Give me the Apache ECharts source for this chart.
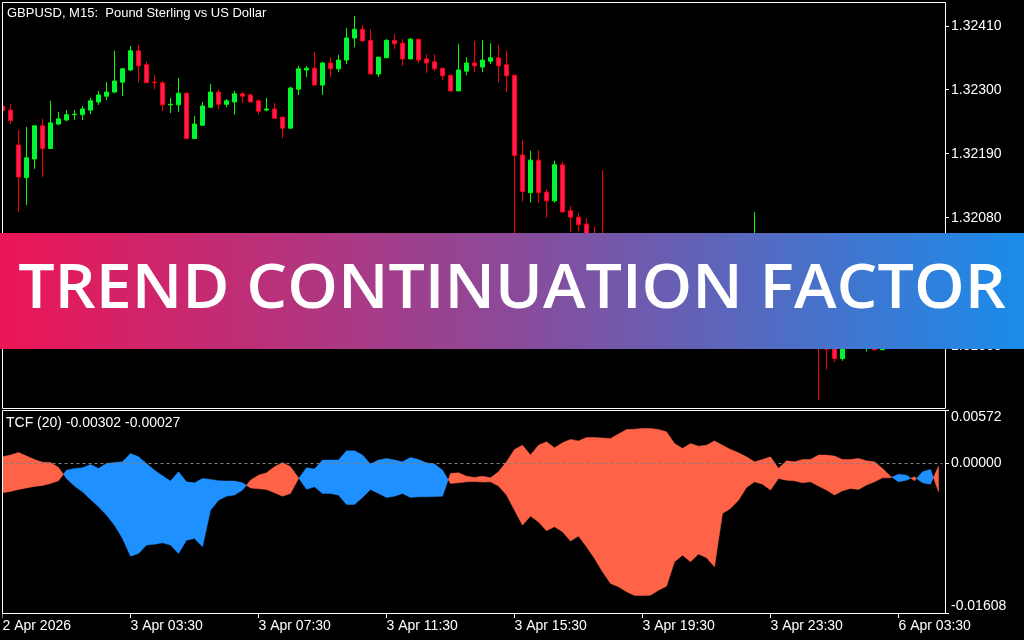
<!DOCTYPE html>
<html><head><meta charset="utf-8">
<script src="https://cdn.jsdelivr.net/npm/echarts@6/dist/echarts.min.js"></script>
<style>html,body{margin:0;padding:0;background:#000;overflow:hidden}#c{width:1024px;height:640px}</style>
</head><body><div id="c"></div>
<script>
// ---- GBPUSD M15 candles ----
const opens = [
1.32272,1.32265,1.32205,1.32149,1.32181,1.32238,1.32199,1.32241,1.32248,1.32257,
1.32257,1.32265,1.32279,1.32289,1.32296,1.32313,1.32334,1.32367,1.32343,1.32313,
1.32312,1.32274,1.32274,1.32294,1.32216,1.32239,1.3227,1.32296,1.32275,1.32279,
1.32293,1.32291,1.32281,1.32265,1.32267,1.32253,1.32234,1.32301,1.32334,1.32337,
1.32308,1.32346,1.32336,1.32351,1.32389,1.32404,1.32385,1.32327,1.32355,1.32385,
1.3238,1.32353,1.32387,1.32353,1.32348,1.32337,1.32325,1.32298,1.32332,1.32346,
1.32339,1.32349,1.32355,1.32343,1.32325,1.32188,1.32123,1.32179,1.32124,1.32109,
1.32171,1.32092,1.32081,1.32069,1.32035,1.32004,1.31973,1.31952,1.31966,1.31939,
1.31925,1.31945,1.31921,1.31939,1.31959,1.3198,1.31963,1.31976,1.31956,1.31973,
1.31945,1.31966,1.31987,1.31973,1.31994,1.32014,1.31994,1.3197,1.31983,1.31956,
1.31935,1.31911,1.31887,1.3187,1.31873,1.31838,1.3187,1.3188,1.3187,1.31861,
1.31853,1.31866,1.31859,1.31873,1.31866,1.31877,1.3187,1.3188];
const highs = [
1.32275,1.32275,1.32231,1.32236,1.32238,1.3225,1.32281,1.32262,1.32265,1.32265,
1.32272,1.32286,1.32298,1.32313,1.32367,1.32337,1.32375,1.32377,1.32348,1.32325,
1.32315,1.32286,1.3232,1.32296,1.32255,1.32279,1.3231,1.323,1.32284,1.32298,
1.32296,1.32294,1.32284,1.32286,1.32277,1.32253,1.32305,1.32341,1.32341,1.32365,
1.32348,1.32356,1.3236,1.32406,1.32427,1.32411,1.32404,1.32356,1.32387,1.32396,
1.32387,1.32389,1.32387,1.32361,1.32361,1.32337,1.32325,1.32379,1.32356,1.32384,
1.32385,1.3238,1.32377,1.32367,1.32325,1.32214,1.32195,1.32196,1.32129,1.32178,
1.32176,1.321,1.32088,1.32079,1.32065,1.32162,1.31987,1.31976,1.31973,1.31945,
1.31956,1.31952,1.31945,1.3197,1.3199,1.3199,1.31987,1.31983,1.3198,1.3198,
1.31973,1.31997,1.31997,1.32004,1.3209,1.32025,1.32004,1.31994,1.3199,1.31963,
1.31942,1.31918,1.31894,1.31877,1.3188,1.31877,1.31887,1.31887,1.31887,1.3187,
1.31873,1.31873,1.3188,1.3188,1.31884,1.31884,1.31887,1.31887];
const lows = [
1.32262,1.32241,1.3209,1.32102,1.32164,1.3215,1.32199,1.32239,1.32246,1.32248,
1.32248,1.32258,1.32274,1.32282,1.32294,1.32289,1.32332,1.32313,1.32312,1.32301,
1.32263,1.3226,1.32262,1.32215,1.32216,1.32239,1.32269,1.32267,1.3227,1.32257,
1.32277,1.32279,1.32258,1.32263,1.32251,1.32217,1.32234,1.32291,1.32322,1.32308,
1.32291,1.32322,1.3233,1.32344,1.32373,1.32384,1.32327,1.32322,1.32355,1.3237,
1.32341,1.32353,1.32346,1.32329,1.32332,1.32317,1.32296,1.32298,1.32325,1.3233,
1.3233,1.32344,1.32313,1.32296,1.32025,1.32108,1.32106,1.32106,1.3208,1.32106,
1.32089,1.32056,1.32056,1.32021,1.31994,1.31956,1.31942,1.31939,1.31928,1.31908,
1.31918,1.31911,1.31915,1.31932,1.31952,1.31952,1.31956,1.31945,1.31949,1.31935,
1.31939,1.31959,1.31963,1.31966,1.31987,1.31983,1.31959,1.31963,1.31945,1.31925,
1.31901,1.31877,1.31766,1.31819,1.31832,1.31834,1.31863,1.31863,1.3185,1.31851,
1.31853,1.31856,1.31856,1.31859,1.31859,1.31863,1.31863,1.31863];
const closes = [
1.32264,1.32247,1.3215,1.32183,1.32238,1.32199,1.32243,1.3225,1.32257,1.32258,
1.32267,1.32281,1.32291,1.32296,1.32315,1.32336,1.32367,1.32341,1.32312,1.32312,
1.32274,1.32275,1.32294,1.32216,1.32241,1.32272,1.32296,1.32275,1.32281,1.32293,
1.32289,1.32279,1.32263,1.32267,1.32251,1.32234,1.32303,1.32336,1.32337,1.32308,
1.32346,1.32336,1.32351,1.32389,1.32404,1.32384,1.32327,1.32356,1.32385,1.32379,
1.32353,1.32387,1.32351,1.32346,1.32336,1.32324,1.32298,1.32334,1.32346,1.32341,
1.32351,1.32355,1.32341,1.32324,1.32187,1.32125,1.32179,1.32123,1.32109,1.32171,
1.3209,1.32081,1.32068,1.32033,1.32004,1.31973,1.31952,1.31966,1.31939,1.31925,
1.31945,1.31921,1.31939,1.31959,1.3198,1.31963,1.31976,1.31956,1.31973,1.31945,
1.31966,1.31987,1.31973,1.31994,1.32014,1.31994,1.3197,1.31983,1.31956,1.31935,
1.31911,1.31887,1.31866,1.31854,1.31838,1.3187,1.3188,1.31873,1.31877,1.31853,
1.31866,1.31859,1.31873,1.31866,1.31877,1.3187,1.3188,1.3187];

// ---- TCF(20) indicator lines ----
const tcfPlus = [
-0.00314,-0.00299,-0.00278,-0.00261,-0.00245,-0.00235,-0.00213,-0.00185,-0.0007,-0.00052,
-0.00045,-0.00009,-0.00052,0.00002,0.00013,0.00019,0.0011,0.00073,0.00002,-0.0007,
-0.00131,-0.00188,-0.00088,-0.00196,-0.00207,-0.00159,-0.0017,-0.00185,-0.00188,-0.00188,
-0.00207,-0.00261,-0.00271,-0.00278,-0.00314,-0.0035,-0.00321,-0.00161,-0.00045,-0.00059,
0.00038,0.00038,0.00038,0.00138,0.00138,0.00092,-0.00005,0.00038,0.00056,0.00038,
0.00019,0.00067,0.00045,0.00009,-0.00005,-0.0007,-0.00213,-0.00207,-0.00196,-0.00192,
-0.00199,-0.00196,-0.00242,-0.00339,-0.00501,-0.00662,-0.00565,-0.00627,-0.00723,-0.0068,
-0.00734,-0.00834,-0.0078,-0.00896,-0.01021,-0.01165,-0.0129,-0.01326,-0.0138,-0.01419,
-0.01419,-0.01416,-0.01362,-0.01319,-0.01057,-0.00985,-0.01057,-0.00974,-0.01012,-0.01111,
-0.00536,-0.00482,-0.00393,-0.00256,-0.00196,-0.00221,-0.00285,-0.00159,-0.00178,-0.00185,
-0.00207,-0.00196,-0.00242,-0.00285,-0.00339,-0.00293,-0.00267,-0.00278,-0.00231,-0.00196,
-0.00153,-0.00153,-0.00113,-0.00124,-0.00185,-0.00088,-0.00062,-0.00302];
const tcfMinus = [
0.00073,0.00092,0.00121,0.00081,0.00045,0.00016,0.00013,-0.00041,-0.00159,-0.00242,
-0.00304,-0.00385,-0.00465,-0.00554,-0.00662,-0.00805,-0.00996,-0.00967,-0.00877,-0.00867,
-0.00853,-0.00877,-0.00967,-0.00824,-0.00805,-0.00896,-0.00501,-0.00393,-0.0035,-0.00339,
-0.00285,-0.00178,-0.00124,-0.00099,-0.00034,0.00013,-0.00034,-0.00151,-0.00275,-0.0025,
-0.00321,-0.00321,-0.00339,-0.00439,-0.00439,-0.00364,-0.00278,-0.00321,-0.00364,-0.0035,
-0.00321,-0.00364,-0.00357,-0.00357,-0.00353,-0.0035,-0.00105,-0.00099,-0.00135,-0.00148,
-0.00135,-0.00153,-0.00088,0.00019,0.00153,0.00199,0.00092,0.00199,0.00235,0.0017,
0.00224,0.00261,0.00245,0.00282,0.00282,0.00275,0.00271,0.00318,0.00368,0.00371,
0.00379,0.00379,0.00368,0.00342,0.00217,0.00164,0.00217,0.00188,0.00199,0.00245,
0.00199,0.00153,0.00116,0.00073,0.00019,0.00045,0.00073,-0.00052,0.0003,0.00019,
0.00045,0.00045,0.00092,0.00092,0.00081,0.00045,0.00045,0.00056,0.0003,0.00019,
-0.00052,-0.00135,-0.00196,-0.00178,-0.00142,-0.00207,-0.00221,-0.00027];

// ---- axis labels ----
const timeLabels = ['2 Apr 2026','3 Apr 03:30','3 Apr 07:30','3 Apr 11:30','3 Apr 15:30','3 Apr 19:30','3 Apr 23:30','6 Apr 03:30'];
const priceTicks = [1.3186, 1.3197, 1.3208, 1.3219, 1.3230, 1.3241];
const tcfTicks = [-0.01608, 0, 0.00572];

const N = closes.length;
const idx = closes.map((_, i) => i);
const RED = '#FF6347', BLUE = '#1E90FF';
const FONT = '"Liberation Sans", Arial, sans-serif';
const lab = {color: '#FFFFFF', fontFamily: FONT, fontSize: 14};

const chart = echarts.init(document.getElementById('c'), null, {renderer: 'canvas', width: 1024, height: 640});

// Filled band between the two TCF lines, one polygon per same-colour run
function renderBand(params, api) {
  if (api.value(0) !== 0) return null;
  const col = d => d > 0 ? BLUE : RED;
  const polys = [];
  let top = [api.coord([0, tcfPlus[0]])], bot = [api.coord([0, tcfMinus[0]])];
  let curD = tcfPlus[0] - tcfMinus[0];
  const flush = () => {
    const pts = top.concat(bot.slice().reverse());
    polys.push({type: 'polygon', shape: {points: pts}, style: {fill: col(curD), stroke: col(curD), lineWidth: 0.5}});
  };
  for (let i = 0; i < N - 1; i++) {
    const d0 = tcfPlus[i] - tcfMinus[i], d1 = tcfPlus[i + 1] - tcfMinus[i + 1];
    const p0 = api.coord([i, tcfPlus[i]]), p1 = api.coord([i + 1, tcfPlus[i + 1]]);
    const m1 = api.coord([i + 1, tcfMinus[i + 1]]);
    if (d0 * d1 < 0) {
      const t = d0 / (d0 - d1);
      const c = [p0[0] + t * (p1[0] - p0[0]), p0[1] + t * (p1[1] - p0[1])];
      top.push(c); bot.push(c);
      flush();
      top = [c, p1]; bot = [c, m1]; curD = d1;
    } else {
      top.push(p1); bot.push(m1);
      if (curD === 0) curD = d1;
    }
  }
  flush();
  return {type: 'group', children: polys};
}

const option = {
  backgroundColor: '#000000',
  animation: false,
  grid: [
    {left: -1.5, top: 2.5, width: 944, height: 406, outerBoundsMode: 'none'},
    {left: -1.5, top: 410.5, width: 944, height: 202.5, outerBoundsMode: 'none'}
  ],
  xAxis: [
    {type: 'category', gridIndex: 0, data: idx, boundaryGap: true, show: false},
    {type: 'category', gridIndex: 1, data: idx, boundaryGap: true, position: 'bottom',
     axisLine: {show: false, onZero: false},
     axisTick: {show: true, alignWithLabel: true, interval: 15, length: 5, lineStyle: {color: '#FFFFFF'}},
     axisLabel: Object.assign({interval: 15, align: 'left', margin: 6,
       formatter: (v, i) => timeLabels[i / 16] || ''}, lab),
     splitLine: {show: false}}
  ],
  yAxis: [
    {type: 'value', gridIndex: 0, position: 'right', offset: 2.5, min: 1.31752, max: 1.3245,
     axisLine: {show: false}, splitLine: {show: false},
     axisTick: {show: true, length: 4, customValues: priceTicks, lineStyle: {color: '#FFFFFF'}},
     axisLabel: Object.assign({customValues: priceTicks, margin: 6, formatter: v => v.toFixed(5)}, lab)},
    {type: 'value', gridIndex: 1, position: 'right', offset: 2.5, min: -0.01608, max: 0.00572,
     axisLine: {show: false}, splitLine: {show: false},
     axisTick: {show: true, length: 4, customValues: tcfTicks, lineStyle: {color: '#FFFFFF'}},
     axisLabel: Object.assign({customValues: tcfTicks, margin: 6, showMinLabel: true, showMaxLabel: true,
       verticalAlignMinLabel: 'bottom', verticalAlignMaxLabel: 'top',
       formatter: v => v.toFixed(5)}, lab)}
  ],
  series: [
    {type: 'candlestick', xAxisIndex: 0, yAxisIndex: 0, barWidth: 5,
     data: idx.map(i => [opens[i], closes[i], lows[i], highs[i]]),
     itemStyle: {color: '#00F050', color0: '#FF1A5E', borderColor: '#00FF00', borderColor0: '#FF0000', borderWidth: 1}},
    {type: 'line', xAxisIndex: 1, yAxisIndex: 1, z: 1, symbol: 'none', silent: true,
     data: tcfPlus, lineStyle: {opacity: 0},
     markLine: {symbol: ['none', 'none'], silent: true, label: {show: false},
       lineStyle: {color: '#808080', type: [3, 3], width: 1}, data: [{yAxis: 0}]}},
    {type: 'custom', xAxisIndex: 1, yAxisIndex: 1, z: 3, clip: true,
     data: idx.map(i => [i, tcfPlus[i], tcfMinus[i]]),
     encode: {x: 0, y: [1, 2]},
     renderItem: renderBand}
  ],
  graphic: [
    {type: 'rect', z: 40, shape: {x: 0, y: 0, width: 2.5, height: 640}, style: {fill: '#000000'}},
    {type: 'rect', z: 50, shape: {x: 2.5, y: 2.5, width: 943, height: 406}, style: {fill: null, stroke: '#FFFFFF', lineWidth: 1}},
    {type: 'rect', z: 50, shape: {x: 2.5, y: 410.5, width: 943, height: 203}, style: {fill: null, stroke: '#FFFFFF', lineWidth: 1}},
    {type: 'text', z: 50, style: {x: 7, y: 13, text: 'GBPUSD, M15:  Pound Sterling vs US Dollar', fill: '#FFFFFF',
      font: '13px ' + FONT, textAlign: 'left', textVerticalAlign: 'middle'}},
    {type: 'text', z: 50, style: {x: 6, y: 423, text: 'TCF (20) ' + tcfPlus[N - 1].toFixed(5) + ' ' + tcfMinus[N - 1].toFixed(5),
      fill: '#FFFFFF', font: '14px ' + FONT, textAlign: 'left', textVerticalAlign: 'middle'}},
    {type: 'rect', z: 100, shape: {x: 0, y: 233, width: 1024, height: 116},
     style: {fill: new echarts.graphic.LinearGradient(0, 0, 1, 0, [
       {offset: 0, color: '#EC1556'}, {offset: 0.5, color: '#8B4A9A'}, {offset: 1, color: '#1A8CEA'}])}},
    {type: 'text', z: 101, x: 512, y: 290, scaleX: 1.04,
     style: {x: 0, y: 0, text: 'TREND CONTINUATION FACTOR', fill: '#FFFFFF',
       font: '600 62px "Open Sans", sans-serif', textAlign: 'center', textVerticalAlign: 'middle'}}
  ]
};
chart.setOption(option);
</script>
</body></html>
